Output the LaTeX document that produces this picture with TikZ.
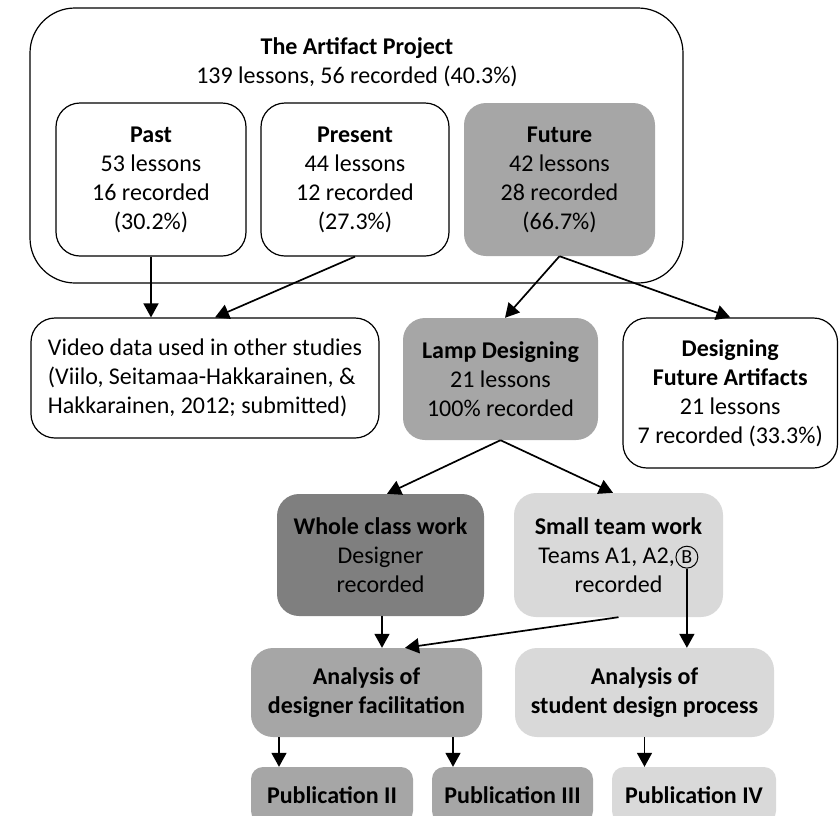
\documentclass[tikz,border=0pt]{standalone}
\usepackage{fontspec}
\setmainfont{Carlito}
\usetikzlibrary{arrows.meta,calc}

\definecolor{midgray}{HTML}{A6A6A6}
\definecolor{darkgray}{HTML}{7F7F7F}
\definecolor{lightgray}{HTML}{D9D9D9}

\tikzset{
  every node/.append style={font=\fontsize{24}{29}\selectfont},
  box/.style={draw, line width=1.2pt, rounded corners=24pt, align=center, inner sep=0pt},
  filledbox/.style={fill=#1, rounded corners=22pt, align=center, inner sep=0pt},
  arr/.style={-{Triangle[length=14pt,width=15pt]}, line width=1.7pt},
}

\begin{document}
\begin{tikzpicture}[x=1pt,y=-1pt]
  \useasboundingbox (0,0) rectangle (839,815);
  \clip (0,0) rectangle (839,815);

  % project frame and its three phases
  \node[box, rounded corners=45pt, minimum width=653pt, minimum height=275pt] (proj) at (356.5,145.5) {};
  \node[align=center, inner sep=0pt] (projtitle) at (357,62)
    {\textbf{The Artifact Project}\\139 lessons, 56 recorded (40.3\%)};

  \node[box, minimum width=190pt, minimum height=153pt] (past) at (151,179.5)
    {\textbf{Past}\\53 lessons\\16 recorded\\(30.2\%)};
  \node[box, minimum width=188pt, minimum height=153pt] (present) at (355,179.5)
    {\textbf{Present}\\44 lessons\\12 recorded\\(27.3\%)};
  \node[filledbox=midgray, minimum width=191pt, minimum height=153pt] (future) at (559.5,179.5)
    {\textbf{Future}\\42 lessons\\28 recorded\\(66.7\%)};

  % second row
  \node[box, align=left, minimum width=348pt, minimum height=120pt] (video) at (205,378)
    {Video data used in other studies\\(Viilo, Seitamaa-Hakkarainen, \&\\Hakkarainen, 2012; submitted)};
  \node[filledbox=midgray, minimum width=195pt, minimum height=122pt] (lamp) at (500.5,379)
    {\textbf{Lamp Designing}\\21 lessons\\100\% recorded};
  \node[box, minimum width=214.5pt, minimum height=150pt] (dfa) at (730.25,393)
    {\textbf{Designing}\\\textbf{Future Artifacts}\\21 lessons\\7 recorded (33.3\%)};

  % work modes
  \node[filledbox=darkgray, minimum width=207pt, minimum height=122pt] (whole) at (380.5,555)
    {\textbf{Whole class work}\\Designer\\recorded};
  \node[filledbox=lightgray, minimum width=209pt, minimum height=124pt] (small) at (618.5,555)
    {\textbf{Small team work}\\\vphantom{Tg}\\recorded};
  \node[inner sep=0pt, anchor=base] (teams) at ($(small.center)+(-12,8.4)$) {Teams A1, A2,};
  \node[circle, draw, line width=1pt, inner sep=1.8pt, anchor=west,
        font=\fontsize{20}{20}\selectfont] (bmark) at ([xshift=0.5pt]teams.east) {B};

  % analyses
  \node[filledbox=midgray, minimum width=231pt, minimum height=89pt] (designer) at (366.5,692.5)
    {\textbf{Analysis of}\\\textbf{designer facilitation}};
  \node[filledbox=lightgray, minimum width=259pt, minimum height=89pt] (student) at (644.5,692.5)
    {\textbf{Analysis of}\\\textbf{student design process}};

  % publications
  \node[filledbox=midgray, rounded corners=12pt, minimum width=162pt, minimum height=56pt] (pubii) at (332,795)
    {\textbf{Publication II}};
  \node[filledbox=midgray, rounded corners=12pt, minimum width=161pt, minimum height=56pt] (pubiii) at (512.5,795)
    {\textbf{Publication III}};
  \node[filledbox=lightgray, rounded corners=12pt, minimum width=164pt, minimum height=56pt] (pubiv) at (694,795)
    {\textbf{Publication IV}};

  % connectors
  \draw[arr] (past.south) -- (past.south |- video.north);
  \draw[arr] (present.south) -- ($(video.north)+(10,0)$);
  \draw[arr] (future.south) -- ($(lamp.north)+(4.5,0)$);
  \draw[arr] (future.south) -- (dfa.north);
  \draw[arr] (lamp.south) -- ($(whole.north)+(6.5,0)$);
  \draw[arr] (lamp.south) -- ($(small.north)+(-5.5,0)$);
  \draw[arr] ([xshift=1.5pt]whole.south) -- ([xshift=1.5pt]whole.south |- designer.north);
  \draw[arr] (small.south) -- ($(designer.north)+(38.5,0)$);
  \draw[arr] (bmark.south) -- (bmark.south |- student.north);
  \draw[arr] ([xshift=-87.5pt]designer.south) -- ([xshift=-87.5pt]designer.south |- pubii.north);
  \draw[arr] ([xshift=86.5pt]designer.south) -- ([xshift=86.5pt]designer.south |- pubiii.north);
  \draw[arr] (student.south) -- (student.south |- pubiv.north);
\end{tikzpicture}
\end{document}
